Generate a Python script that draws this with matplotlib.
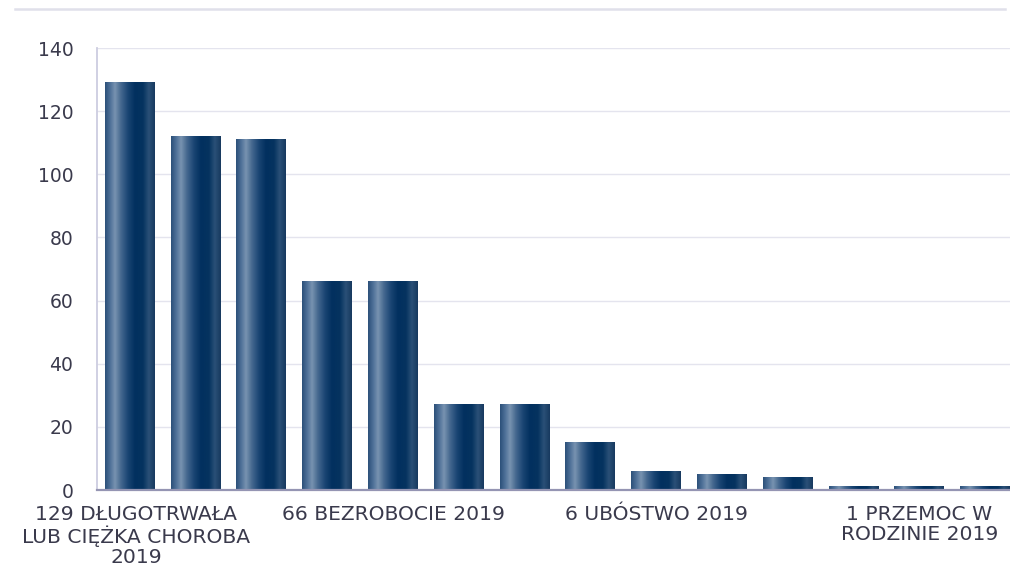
import matplotlib
matplotlib.use("Agg")
import matplotlib.pyplot as plt
import numpy as np
from matplotlib.colors import LinearSegmentedColormap
from matplotlib.transforms import ScaledTranslation

# ---- data ----
categories = [
    "129 DŁUGOTRWAŁA\nLUB CIĘŻKA CHOROBA\n2019", "", "", "",
    "66 BEZROBOCIE 2019", "", "", "",
    "6 UBÓSTWO 2019", "", "", "",
    "1 PRZEMOC W\nRODZINIE 2019", "",
]
values = [129, 112, 111, 66, 66, 27, 27, 15, 6, 5, 4, 1, 1, 1]
y_ticks = [0, 20, 40, 60, 80, 100, 120, 140]

# ---- style ----
plt.rcParams['font.family'] = ['DejaVu Sans']
text_color = "#3a3a4c"
grad = LinearSegmentedColormap.from_list("bar", [
    (0.00, "#2b5079"), (0.10, "#4d6f97"), (0.20, "#7893b0"),
    (0.32, "#45688f"), (0.46, "#1a4573"), (0.60, "#02305f"),
    (0.76, "#05335f"), (0.88, "#2a5077"), (1.00, "#17395f"),
])

fig = plt.figure(figsize=(10.10, 5.71), dpi=100)
ax = fig.add_axes([97/1010, 81/571, 921/1010, 442/571])

x = np.arange(len(values))
bars = ax.bar(x, values, width=0.76, color="none", edgecolor="none", zorder=3)
gimg = np.linspace(0, 1, 256).reshape(1, -1)
for b in bars:
    x0, y0 = b.get_x(), b.get_y()
    w, h = b.get_width(), b.get_height()
    ax.imshow(gimg, cmap=grad, aspect="auto", extent=[x0, x0 + w, y0, y0 + h],
              zorder=3, interpolation="bilinear")

ax.set_xlim(-0.5, len(values) - 0.5)
ax.set_ylim(0, 140)
ax.set_yticks(y_ticks)
ax.set_yticklabels([str(t) for t in y_ticks])
ax.set_xticks(x)
ax.set_xticklabels(categories, linespacing=1.06)

ax.grid(axis="y", color="#e4e4ee", linewidth=1.0, zorder=0)
ax.set_axisbelow(True)
for s in ["top", "right"]:
    ax.spines[s].set_visible(False)
ax.spines["left"].set_color("#cdcde0")
ax.spines["left"].set_linewidth(1.3)
ax.spines["bottom"].set_color("#9595b3")
ax.spines["bottom"].set_linewidth(1.6)
ax.spines["bottom"].set_zorder(4)

ax.tick_params(axis="both", length=0, labelcolor=text_color)
ax.tick_params(axis="y", pad=17, labelsize=13.5)
ax.tick_params(axis="x", pad=11, labelsize=14.6)

# nudge the first (widest) label slightly right, as in the reference
first = ax.get_xticklabels()[0]
first.set_transform(first.get_transform() + ScaledTranslation(6/100, 0, fig.dpi_scale_trans))

# top separator line
fig.add_artist(plt.Line2D([15/1010, 1005/1010], [1 - 9/571, 1 - 9/571],
                          color="#e0e0ea", linewidth=1.8, transform=fig.transFigure))

fig.savefig("out.png", dpi=100)
